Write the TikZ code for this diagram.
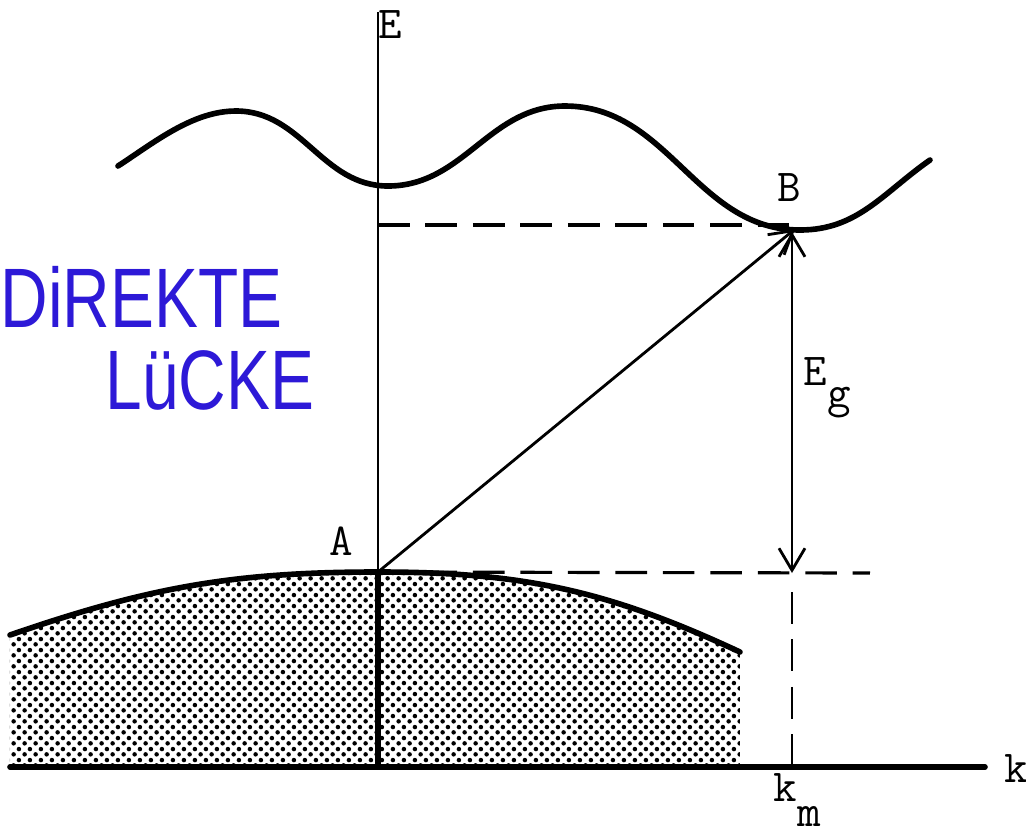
\documentclass[tikz,border=0pt]{standalone}
\usepackage{fontspec}
\newfontfamily\handfont{Liberation Sans}
\usetikzlibrary{arrows.meta, patterns.meta}
\definecolor{inkblue}{RGB}{45,25,215}

\tikzdeclarepattern{
  name=banddots,
  type=uncolored,
  bottom left={(0pt,0pt)},
  top right={(3.2pt,3.2pt)},
  tile size={(3.2pt,3.2pt)},
  code={
    \fill (0.8pt,0.8pt) circle[radius=0.68pt];
    \fill (2.4pt,2.4pt) circle[radius=0.68pt];
  }
}

\begin{document}
\begin{tikzpicture}[
    x=0.01cm, y=0.01cm,
    lbl/.style={inner sep=0pt, font=\ttfamily\fontsize{13}{15}\selectfont},
    band/.style={line width=1.6pt, line cap=round},
    axis/.style={line width=0.7pt},
    guide/.style={line width=0.9pt, dash pattern=on 9pt off 4.5pt},
    arrow/.style={-{Straight Barb[length=2.2mm,width=2.6mm]}, line width=0.8pt},
    gap/.style={{Straight Barb[length=2.2mm,width=2.6mm]}-{Straight Barb[length=2.2mm,width=2.6mm]}, line width=0.8pt},
    note/.style={inner sep=0pt, anchor=west, text=inkblue,
      font=\handfont\fontsize{24}{28}\selectfont, xscale=0.78, transform shape}
]
\useasboundingbox (0,0) rectangle (1026,-835);

\coordinate (Etop) at (378,-12);
\coordinate (A) at (378,-572);
\coordinate (O) at (378,-767);
\coordinate (kstart) at (10,-767);
\coordinate (kend) at (985,-767);
\coordinate (B) at (795,-229);
\coordinate (Bup) at (792,-232);
\coordinate (Blev) at (790,-225);
\coordinate (Elev) at (378,-225);
\coordinate (Vlev) at (870,-573);
\coordinate (Bdown) at (792,-573);
\coordinate (kmtop) at (792,-592);
\coordinate (km) at (792,-767);

\fill[pattern=banddots, pattern color=black]
  (10,-635) to[out=19,in=180] (A) to[out=0,in=155] (740,-652)
  -- (740,-767) -- (10,-767) -- cycle;
\draw[band] (10,-635) to[out=19,in=180] (A) to[out=0,in=155] (740,-652);

\draw[band] (118,-166) to[out=33,in=180,looseness=0.85] (236,-111)
  to[out=0,in=180] (388,-186) to[out=0,in=180] (565,-106)
  to[out=0,in=180] (800,-230) to[out=0,in=215] (930,-160);

\draw[axis] (Etop) -- (A);
\draw[band, line cap=butt] (A) -- (O);
\draw[band] (kstart) -- (kend);

\draw[guide] (Elev) -- (Blev);
\draw[guide] (A) -- (Vlev);
\draw[guide, line width=0.7pt] (kmtop) -- (km);

\draw[arrow] (A) -- (B);
\draw[gap] (Bup) -- (Bdown);

\node[lbl] (Elbl) at (390,-25) {E};
\node[lbl] (Albl) at (341,-541) {A};
\node[lbl] (Blbl) at (789,-188) {B};
\node[lbl, anchor=west] (klbl) at (1004,-769) {k};
\node[lbl, anchor=north west] (Eglbl) at (803,-357) {E\raisebox{-1.1ex}{g}};
\node[lbl, anchor=north west] (kmlbl) at (773,-773) {k\raisebox{-1.25ex}{m}};

\node[note] (word1) at (0,-297) {DiREKTE};
\node[note] (word2) at (105,-380) {LüCKE};
\end{tikzpicture}
\end{document}
